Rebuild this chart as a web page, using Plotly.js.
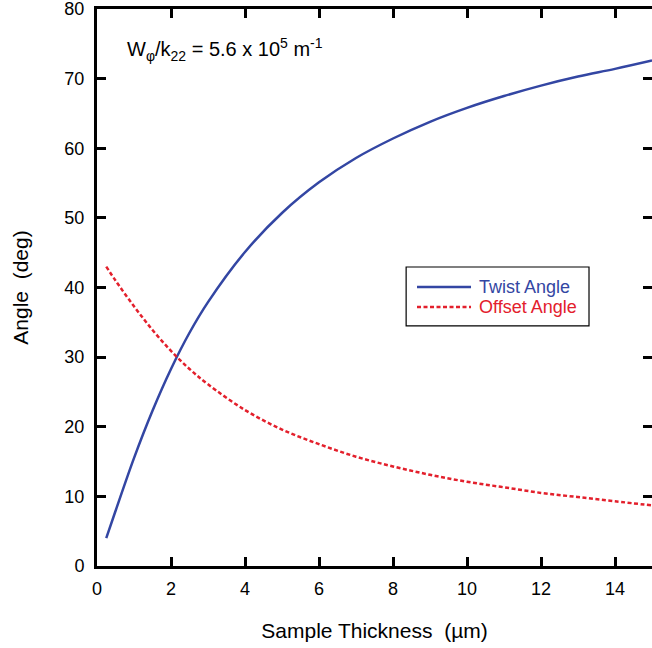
<!DOCTYPE html>
<html>
<head>
<meta charset="utf-8">
<script src="https://cdn.plot.ly/plotly-3.0.1.min.js"></script>
<style>html,body{margin:0;padding:0;background:#fff;}</style>
</head>
<body>
<div id="chart" style="width:652px;height:648px;"></div>
<script>
// Sample thickness (µm)
const thickness = [0.25, 0.5, 1, 1.5, 2, 2.5, 3, 4, 5, 6, 7, 8, 9, 10, 11, 12, 13, 14, 15];
// Twist angle (deg)
const twistAngle = [4.0, 7.9, 15.5, 22.3, 28.3, 33.5, 37.9, 45.1, 50.7, 55.1, 58.6, 61.4, 63.8, 65.8, 67.5, 69.0, 70.3, 71.4, 72.6];
// Offset angle (deg)
const offsetAngle = [43.0, 41.0, 37.3, 33.9, 30.9, 28.3, 26.1, 22.4, 19.6, 17.5, 15.7, 14.3, 13.1, 12.1, 11.3, 10.5, 9.9, 9.3, 8.7];

const seriesNames = ["Twist Angle", "Offset Angle"];
const xTicks = [0, 2, 4, 6, 8, 10, 12, 14];
const yTicks = [0, 10, 20, 30, 40, 50, 60, 70, 80];

const blue = "#3346a3";
const red = "#e3202c";
const redDash = "4px,2.5px";

const traces = [
  {
    x: thickness, y: twistAngle, type: "scatter", mode: "lines",
    name: seriesNames[0], showlegend: false,
    line: {color: blue, width: 2.5, shape: "spline"}
  },
  {
    x: thickness, y: offsetAngle, type: "scatter", mode: "lines",
    name: seriesNames[1], showlegend: false,
    line: {color: red, width: 2.5, dash: redDash, shape: "spline"}
  }
];

const font = {family: "Liberation Sans, Arial, Helvetica, sans-serif", color: "#000"};
const f = (size, extra) => Object.assign({size: size}, font, extra || {});

const axisCommon = {
  showgrid: false, zeroline: false,
  showline: true, linecolor: "#000", linewidth: 3,
  mirror: "ticks", ticks: "inside", ticklen: 9, tickwidth: 3, tickcolor: "#000",
  tickfont: f(18), ticklabeloverflow: "allow"
};

// manual legend (paper coordinates of the plotting area)
const legBox = {x0: 0.557, x1: 0.8865, y0: 0.431, y1: 0.5368};
const legRows = [0.5009, 0.4650];
const legLineX = [0.5766, 0.6739];
const legTextX = 0.6847;

const shapes = [
  {type: "rect", xref: "paper", yref: "paper", x0: legBox.x0, x1: legBox.x1, y0: legBox.y0, y1: legBox.y1,
   line: {color: "#000", width: 1.2}, fillcolor: "#fff", layer: "above"},
  {type: "line", xref: "paper", yref: "paper", x0: legLineX[0], x1: legLineX[1], y0: legRows[0], y1: legRows[0],
   line: {color: blue, width: 2.5}, layer: "above"},
  {type: "line", xref: "paper", yref: "paper", x0: legLineX[0], x1: legLineX[1], y0: legRows[1], y1: legRows[1],
   line: {color: red, width: 2.5, dash: redDash}, layer: "above"}
];

const annotations = [
  {xref: "paper", yref: "paper", x: 0.05, y: 0.927, xanchor: "left", yanchor: "middle",
   text: "W<sub>φ</sub>/k<sub>22</sub> = 5.6 x 10<sup>5</sup> m<sup>-1</sup>",
   showarrow: false, font: f(20)},
  {xref: "paper", yref: "paper", x: legTextX, y: legRows[0], xanchor: "left", yanchor: "middle",
   text: seriesNames[0], showarrow: false, font: f(18, {color: blue})},
  {xref: "paper", yref: "paper", x: legTextX, y: legRows[1], xanchor: "left", yanchor: "middle",
   text: seriesNames[1], showarrow: false, font: f(18, {color: red})}
];

const layout = {
  width: 652, height: 648,
  margin: {l: 97, r: 0, t: 9, b: 82},
  paper_bgcolor: "#fff", plot_bgcolor: "#fff",
  font: font,
  showlegend: false,
  xaxis: Object.assign({}, axisCommon, {
    range: [0, 15], tickvals: xTicks, ticktext: xTicks.map(String),
    ticklabelstandoff: 4,
    title: {text: "Sample Thickness  (µm)", font: f(21), standoff: 26}
  }),
  yaxis: Object.assign({}, axisCommon, {
    range: [0, 80], tickvals: yTicks, ticktext: yTicks.map(String),
    ticklabelstandoff: 6,
    title: {text: "Angle  (deg)", font: f(21), standoff: 31}
  }),
  shapes: shapes,
  annotations: annotations
};

Plotly.newPlot("chart", traces, layout, {displayModeBar: false, staticPlot: true});
</script>
</body>
</html>
